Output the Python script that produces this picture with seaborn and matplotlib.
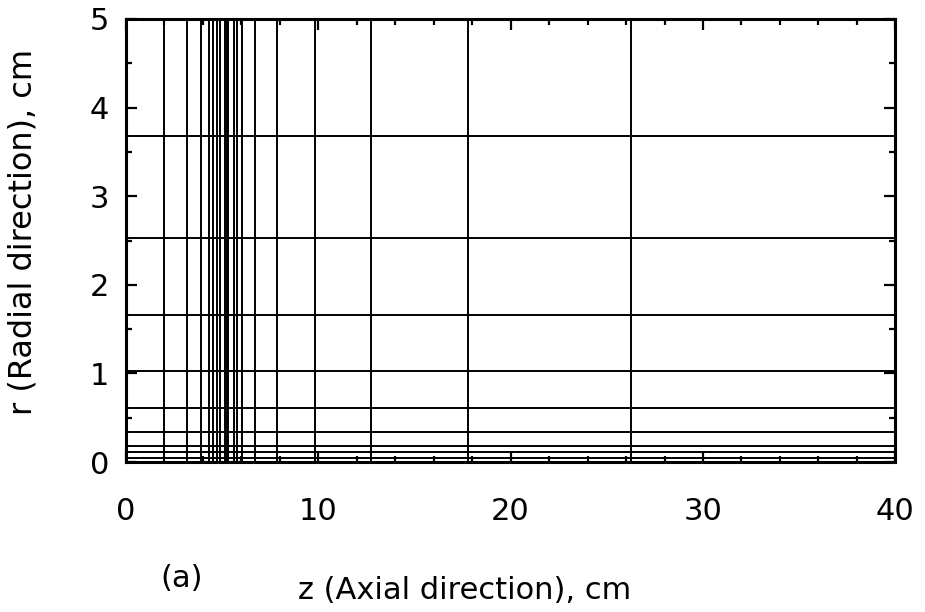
import numpy as np
import pandas as pd
import matplotlib
matplotlib.use("Agg")
import matplotlib.pyplot as plt
from matplotlib.ticker import MultipleLocator
import seaborn as sns

# Mesh node positions of the computational grid
z_nodes = [2.00, 3.20, 3.90, 4.32, 4.53, 4.72, 4.89, 5.18, 5.25, 5.32,
           5.62, 5.80, 6.04, 6.71, 7.86, 9.83, 12.77, 17.77, 26.27]
r_nodes = [0.05, 0.11, 0.18, 0.34, 0.61, 1.03, 1.66, 2.53, 3.68]

z_limits = [0, 40]
r_limits = [0, 5]
x_ticks = [0, 10, 20, 30, 40]
y_ticks = [0, 1, 2, 3, 4, 5]

# Build one two-point segment per grid line
rows = []
for i, z in enumerate(z_nodes):
    rows.append({"line": f"z{i}", "z": z, "r": r_limits[0]})
    rows.append({"line": f"z{i}", "z": z, "r": r_limits[1]})
for j, r in enumerate(r_nodes):
    rows.append({"line": f"r{j}", "z": z_limits[0], "r": r})
    rows.append({"line": f"r{j}", "z": z_limits[1], "r": r})
grid = pd.DataFrame(rows)

sns.set_style("ticks")
plt.rcParams["font.family"] = ["DejaVu Sans"]
plt.rcParams["text.color"] = "black"
plt.rcParams["axes.labelcolor"] = "black"
plt.rcParams["xtick.color"] = "black"
plt.rcParams["ytick.color"] = "black"

fig = plt.figure(figsize=(9.25, 6.12), dpi=100)
ax = fig.add_axes([0.136, 0.245, 0.832, 0.724])

sns.lineplot(data=grid, x="z", y="r", units="line", estimator=None,
             sort=False, color="black", linewidth=1.4, ax=ax, legend=False)

ax.set_xlim(*z_limits)
ax.set_ylim(*r_limits)
ax.set_xticks(x_ticks)
ax.set_yticks(y_ticks)
ax.xaxis.set_minor_locator(MultipleLocator(2))
ax.yaxis.set_minor_locator(MultipleLocator(0.5))

for s in ax.spines.values():
    s.set_visible(True)
    s.set_linewidth(2.2)
    s.set_color("black")

ax.tick_params(which="both", direction="in", top=True, right=True,
               color="black", width=1.6)
ax.tick_params(which="major", length=8, labelsize=22)
ax.tick_params(axis="x", which="major", pad=25)
ax.tick_params(axis="y", which="major", pad=12)
ax.tick_params(which="minor", length=4)

ax.set_xlabel("")
ax.set_ylabel("r (Radial direction), cm", fontsize=23)
ax.yaxis.set_label_coords(-0.113, 0.52)

ax.text(0.44, -0.289, "z (Axial direction), cm", transform=ax.transAxes,
        ha="center", va="center", fontsize=22)
ax.text(0.073, -0.262, "(a)", transform=ax.transAxes,
        ha="center", va="center", fontsize=22)

fig.savefig("out.png", dpi=100, facecolor="white")
